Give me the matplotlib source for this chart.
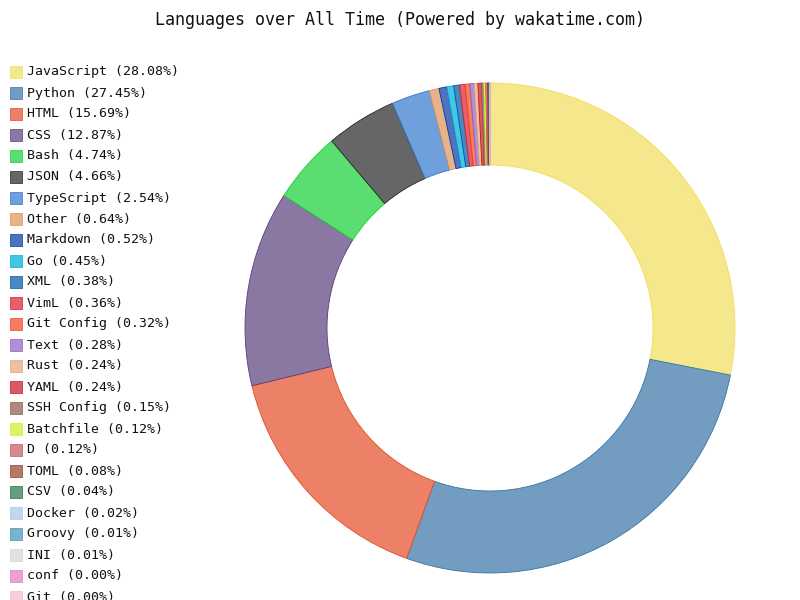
import matplotlib
matplotlib.use("Agg")
import matplotlib.pyplot as plt
from matplotlib.patches import Rectangle
import numpy as np

title = "Languages over All Time (Powered by wakatime.com)"

languages = ["JavaScript", "Python", "HTML", "CSS", "Bash", "JSON", "TypeScript",
             "Other", "Markdown", "Go", "XML", "VimL", "Git Config", "Text", "Rust",
             "YAML", "SSH Config", "Batchfile", "D", "TOML", "CSV", "Docker",
             "Groovy", "INI", "conf", "Git"]
percents = [28.08, 27.45, 15.69, 12.87, 4.74, 4.66, 2.54,
            0.64, 0.52, 0.45, 0.38, 0.36, 0.32, 0.28, 0.24,
            0.24, 0.15, 0.12, 0.12, 0.08, 0.04, 0.02,
            0.01, 0.01, 0.00, 0.00]

fill_colors = ["#f5e78b", "#729dc1", "#ec8168", "#8a78a3", "#5ade72", "#666666",
               "#6fa0dc", "#e9b38a", "#4f74bd", "#45c5e4", "#4a88c2", "#e5606a",
               "#f67c62", "#b08fd4", "#ecc0a3", "#da5a62", "#b08a82", "#d9f46a",
               "#d48a8e", "#b57a66", "#659e7e", "#c2d6f0", "#79b4cc", "#dde3e6",
               "#eca0d8", "#f8cfdc"]


def edge_of(hex_color):
    rgb = np.array([int(hex_color[i:i + 2], 16) for i in (1, 3, 5)], dtype=float)
    base = np.clip((rgb - 0.3 * 255) / 0.7, 0, 255) / 255.0
    return tuple(base)


edge_colors = [edge_of(c) for c in fill_colors]

W, H = 800, 600
fig = plt.figure(figsize=(8, 6), dpi=100)
mono = "DejaVu Sans Mono"

fig.text(400 / W, 1 - 20 / H, title, ha="center", va="center",
         fontsize=12, family=mono, color="#111111")

# Donut
R = 245
cx, cy = 490, 328
ax = fig.add_axes([(cx - R) / W, 1 - (cy + R) / H, 2 * R / W, 2 * R / H])
wedges, _ = ax.pie(percents, startangle=90, counterclock=False,
                   colors=fill_colors, radius=1.0,
                   wedgeprops=dict(width=1 - 163 / 245, linewidth=0.6))
for w, ec in zip(wedges, edge_colors):
    w.set_edgecolor(ec)
ax.set_xlim(-1, 1)
ax.set_ylim(-1, 1)
ax.set_aspect("equal")
ax.axis("off")

# Legend (manual, pygal-like)
for i, (lang, pct) in enumerate(zip(languages, percents)):
    yc = 72 + 21 * i
    rect = Rectangle((10 / W, 1 - (yc + 6) / H), 12 / W, 12 / H,
                     transform=fig.transFigure, facecolor=fill_colors[i],
                     edgecolor=edge_colors[i], linewidth=0.5)
    fig.patches.append(rect)
    fig.text(27 / W, 1 - yc / H, f"{lang} ({pct:.2f}%)", ha="left", va="center",
             fontsize=9.5, family=mono, color="#111111")

fig.savefig("out.png", dpi=100)
